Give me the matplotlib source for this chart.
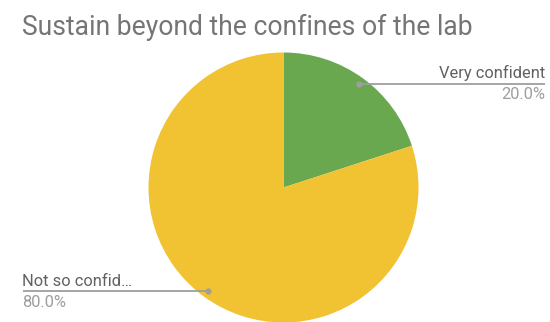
import numpy as np
import matplotlib
matplotlib.use("Agg")
import matplotlib.pyplot as plt

# Survey answers and their shares
labels = ["Very confident", "Not so confid…"]
values = [20.0, 80.0]
colors = ["#6aa84f", "#f1c232"]
title = "Sustain beyond the confines of the lab"

W, H = 550, 322
fig = plt.figure(figsize=(W / 100, H / 100), dpi=100)
ax = fig.add_axes([0, 0, 1, 1])

cx, cy, r = 283.5, H - 187.5, 135
wedges, _ = ax.pie(values, colors=colors, startangle=90, counterclock=False,
                   center=(cx, cy), radius=r, frame=True,
                   wedgeprops=dict(linewidth=0))
ax.set_xlim(0, W)
ax.set_ylim(0, H)
ax.set_aspect("equal")
ax.axis("off")

font = "Roboto"
ax.text(21.5, H - 35, title, fontsize=19.1, color="#757575", family=font,
        ha="left", va="baseline")

line_col = "#9e9e9e"
for w, lab, v in zip(wedges, labels, values):
    mid = np.deg2rad((w.theta1 + w.theta2) / 2)
    px = cx + 0.95 * r * np.cos(mid)
    py = cy + 0.95 * r * np.sin(mid)
    if np.cos(mid) >= 0:
        x_end, ha = 545, "right"
    else:
        x_end, ha = 22.5, "left"
    ax.plot([px, x_end], [py, py], color=line_col, lw=1.3, solid_capstyle="butt")
    ax.plot([px], [py], "o", ms=4.5, color=line_col, mec="none")
    ax.text(x_end, py + 5.5, lab, fontsize=11.9, color="#616161", family=font,
            ha=ha, va="baseline")
    ax.text(x_end, py - 15.5, f"{v:.1f}%", fontsize=11.9, color="#9e9e9e",
            family=font, ha=ha, va="baseline")

fig.savefig("out.png", dpi=100, facecolor="white")
